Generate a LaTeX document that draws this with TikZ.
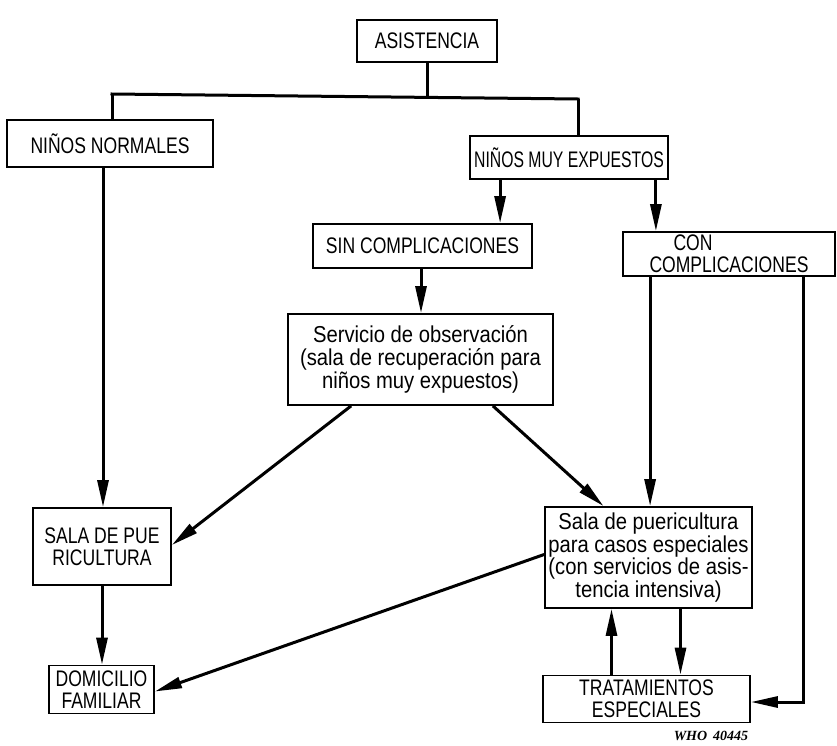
\documentclass[tikz,border=0pt]{standalone}
\usepackage{fontspec}
\setmainfont{Liberation Sans}[FakeStretch=0.78]
\newfontfamily\lowfont{Liberation Sans}[FakeStretch=0.88]
\newfontfamily\narrowfont{Liberation Sans}[FakeStretch=0.7]
\newfontfamily\whofont{Liberation Serif}
\usetikzlibrary{arrows.meta}
\begin{document}
\begin{tikzpicture}[x=1pt,y=-1pt,
  box/.style={draw,line width=1.8pt,inner sep=0pt,align=center,
    font=\fontsize{22.5}{22}\selectfont},
  lowbox/.style={box,font=\lowfont\fontsize{23}{23}\selectfont},
  link/.style={line width=3pt},
  arr/.style={link,-{Triangle[length=27pt,width=11pt]}},
  lbl/.style={font=\whofont\bfseries\itshape\fontsize{14}{15}\selectfont}]
\useasboundingbox (0,0) rectangle (837,745);
\node[box,minimum width=140pt,minimum height=42pt] (asis) at (427,41) {ASISTENCIA};
\node[box,minimum width=206pt,minimum height=47pt] (nn) at (110,143.5) {NIÑOS NORMALES};
\node[box,font=\narrowfont\fontsize{22.5}{22}\selectfont,minimum width=198pt,minimum height=43pt] (nme) at (569,157.5) {NIÑOS MUY EXPUESTOS};
\node[box,minimum width=219pt,minimum height=44pt] (sin) at (422.5,246) {SIN COMPLICACIONES};
\node[box,minimum width=212pt,minimum height=44pt] (con) at (729,254) {CON\hspace*{72pt}\\COMPLICACIONES};
\node[lowbox,minimum width=265pt,minimum height=91pt] (serv) at (420.5,359.5) {Servicio de observación\\(sala de recuperación para\\niños muy expuestos)};
\node[box,minimum width=138pt,minimum height=77pt] (salap) at (102,546.5) {SALA DE PUE\\RICULTURA};
\node[box,minimum width=105pt,minimum height=48pt] (dom) at (101.5,689.5) {DOMICILIO\\FAMILIAR};
\node[lowbox,font=\lowfont\fontsize{23}{22.5}\selectfont,minimum width=207pt,minimum height=101pt] (salae) at (648.5,557.5) {Sala de puericultura\\para casos especiales\\(con servicios de asis-\\tencia intensiva)};
\node[box,minimum width=207pt,minimum height=47pt] (trat) at (646.5,699) {TRATAMIENTOS\\ESPECIALES};
\node[lbl] (who) at (711,736) {WHO\hspace{6pt}40445};
% tree from ASISTENCIA
\coordinate (hl) at (112,94);
\coordinate (hr) at (578,99);
\coordinate (jn) at (427,96.5);
\draw[link] (asis.south) -- (jn);
\draw[link,line cap=rect] (hl) -- (hr);
\draw[link] (hl) -- (hl |- nn.north);
\draw[link] (hr) -- (hr |- nme.north);
% from NIÑOS MUY EXPUESTOS
\coordinate (a1) at ([xshift=31pt]nme.south west);
\coordinate (a2) at ([xshift=-13pt]nme.south east);
\draw[arr] (a1) -- (a1 |- sin.north);
\draw[arr] (a2) -- (a2 |- con.north);
% NIÑOS NORMALES down
\coordinate (a3) at ([xshift=-7pt]nn.south);
\draw[arr] (a3) -- (a3 |- salap.north);
% SIN to servicio
\coordinate (a4) at ([xshift=-1.5pt]sin.south);
\draw[arr] (a4) -- (a4 |- serv.north);
% servicio diagonals
\draw[arr] ([xshift=64pt]serv.south west) -- ([yshift=1.5pt]salap.east);
\draw[arr] ([xshift=-61pt]serv.south east) -- ([xshift=-45pt]salae.north);
% CON down
\coordinate (a5) at ([xshift=28pt]con.south west);
\draw[arr] (a5) -- (a5 |- salae.north);
\coordinate (a6) at ([xshift=-32pt]con.south east);
\coordinate (a7) at (a6 |- trat.east);
\draw[arr] (a6) -- ([yshift=-3pt]a7) -- ([yshift=-3pt]trat.east);
% SALA DE PUE to DOMICILIO
\draw[arr] (salap.south) -- (salap.south |- dom.north);
% Sala especiales to DOMICILIO
\draw[arr] ([yshift=3pt]salae.west) -- ([yshift=-2pt]dom.east);
% between sala especiales and tratamientos
\coordinate (a8) at ([xshift=32pt]salae.south);
\draw[arr] (a8) -- (a8 |- trat.north);
\coordinate (a9) at ([xshift=-37pt]salae.south);
\draw[arr] (a9 |- trat.north) -- (a9);
\end{tikzpicture}
\end{document}
